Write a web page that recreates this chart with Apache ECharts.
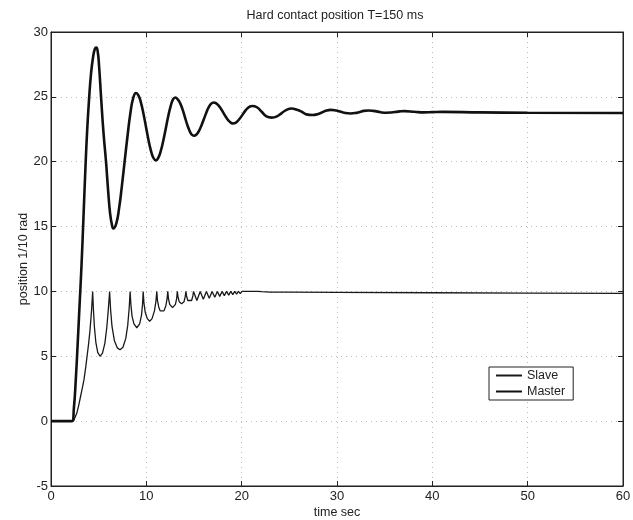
<!DOCTYPE html>
<html>
<head>
<meta charset="utf-8">
<script src="https://cdn.jsdelivr.net/npm/echarts@6/dist/echarts.min.js"></script>
<style>
html,body{margin:0;padding:0;background:#fff;}
#chart{width:633px;height:520px;}
</style>
</head>
<body>
<div id="chart"></div>
<script>
// ---- data ----
var titleText = 'Hard contact position T=150 ms';
var seriesNames = ['Slave', 'Master'];
var xRange = [0, 60], xStep = 10;
var yRange = [-5, 30], yStep = 5;

var masterT = [0,2.2,2.4,2.6,2.8,3.0,3.2,3.4,3.6,3.8,4.0,4.2,4.4,4.6,4.75,4.9,5.05,5.25,5.5,5.77,6.0,6.2,6.4,6.54,
  6.85,7.14,7.43,7.73,8.03,8.33,8.62,8.92,
  9.18,9.44,9.7,9.96,10.22,10.48,10.74,11.0,
  11.25,11.51,11.77,12.03,12.28,12.54,12.8,13.05,
  13.3,13.54,13.79,14.03,14.27,14.51,14.75,15.0,
  15.26,15.52,15.78,16.04,16.3,16.55,16.81,17.07,
  17.33,17.58,17.84,18.09,18.35,18.6,18.85,19.1,
  19.35,19.6,19.85,20.1,20.35,20.6,20.85,21.1,
  21.6,22.1,22.6,23.15,23.7,24.2,24.7,25.25,25.8,26.3,26.8,27.4,27.9,28.4,28.9,29.35,29.9,30.4,30.9,31.4,31.9,32.4,32.8,33.3,33.8,34.3,34.7,35.2,35.7,36.2,36.6,37.1,38.1,39.1,40,41,45,50,60];
var masterV = [0,0,1.0,3.2,6.0,9.0,12.0,15.6,19.3,22.5,24.9,26.8,28.0,28.7,28.8,28.5,27.3,25.0,22.3,20.0,17.7,16.0,15.1,14.85,
  15.25,16.4,18.1,20.07,22.0,23.76,24.9,25.3,
  25.1,24.54,23.7,22.7,21.7,20.86,20.3,20.1,
  20.3,20.81,21.6,22.53,23.45,24.25,24.8,24.95,
  24.8,24.52,24.05,23.48,22.9,22.43,22.1,22.0,
  22.1,22.38,22.8,23.29,23.8,24.2,24.48,24.57,
  24.5,24.33,24.07,23.76,23.45,23.19,23.02,22.95,
  23.0,23.15,23.37,23.63,23.9,24.11,24.25,24.3,
  24.2,23.85,23.5,23.4,23.5,23.75,24.0,24.1,24.0,23.85,23.65,23.6,23.65,23.8,23.95,24.0,23.95,23.85,23.75,23.72,23.75,23.84,23.92,23.95,23.92,23.86,23.8,23.78,23.8,23.84,23.88,23.9,23.85,23.8,23.82,23.84,23.8,23.77,23.75];

var slaveT = [0,2.35,2.5,2.7,2.9,3.1,3.3,3.46,3.65,3.8,3.95,4.09,4.25,4.37,
  4.45,4.55,4.7,4.9,5.14,5.4,5.65,5.85,6.0,6.15,
  6.25,6.4,6.65,6.95,7.24,7.55,7.85,8.05,8.2,8.3,
  8.38,8.5,8.7,9.0,9.3,9.5,9.6,9.67,
  9.75,9.88,10.1,10.35,10.6,10.85,11.0,11.1,
  11.17,11.3,11.45,11.65,11.85,12.05,12.17,12.25,
  12.32,12.45,12.75,13.05,13.18,13.25,
  13.32,13.45,13.7,13.95,14.08,14.15,
  14.22,14.35,14.55,14.75,14.88,14.95,
  15.3,15.65,15.98,16.3,16.6,16.9,17.18,17.45,17.7,17.95,18.18,18.42,18.64,18.86,19.07,19.27,19.47,19.66,19.85,20.03,20.2,20.38,20.54,20.7,20.85,21.0,21.15,21.3,21.5,21.7,21.9,22.1,22.3,
  23,25,30,40,50,60];
var slaveV = [0,0,0.12,0.6,1.2,1.9,2.6,3.2,4.2,5.1,6.0,7.0,8.5,10.0,
  8.6,7.3,6.1,5.3,5.0,5.25,6.0,7.2,8.5,10,
  8.6,7.3,6.2,5.65,5.5,5.7,6.4,7.4,8.7,10,
  9.0,8.1,7.5,7.2,7.5,8.2,9.0,10,
  9.1,8.4,7.9,7.7,7.9,8.5,9.2,10,
  9.3,8.8,8.5,8.35,8.5,8.9,9.4,10,
  9.45,9.0,8.75,9.0,9.45,10,
  9.6,9.2,9.05,9.2,9.6,10,
  9.65,9.3,9.2,9.3,9.65,10,
  9.3,10,9.4,10,9.48,10,9.55,10,9.62,10,9.68,10,9.72,10,9.76,10,9.8,10,9.83,10,9.85,10,9.87,10,9.88,10,9.9,10,9.92,10,9.93,9.98,9.93,
  9.94,9.95,9.93,9.9,9.87,9.85];

function zip(t, v){ var o=[]; for (var i=0;i<t.length;i++) o.push([t[i], v[i]]); return o; }

var FONT = 'Liberation Sans';
var chart = echarts.init(document.getElementById('chart'), null, {renderer:'canvas'});

var gridLine = {show:true, lineStyle:{color:'#bdbdbd', type:[1,4], width:1}};
var baseX = {type:'value', min:xRange[0], max:xRange[1], interval:xStep};
var baseY = {type:'value', min:yRange[0], max:yRange[1], interval:yStep};

chart.setOption({
  animation:false,
  backgroundColor:'#fff',
  title:{text:titleText, left:330, top:4, textAlign:'center',
    textStyle:{fontFamily:FONT, fontSize:12.5, fontWeight:'normal', color:'#222'}},
  grid:{left:51, right:10, top:32, bottom:34, show:true, borderColor:'#222', borderWidth:1,
    containLabel:false, outerBoundsMode:'none'},
  legend:{
    show:true,
    data:seriesNames, orient:'vertical', left:489, top:367,
    itemWidth:26, itemHeight:10, itemGap:3,
    padding:[2,8,2,6],
    borderColor:'#222', borderWidth:1, backgroundColor:'#fff',
    itemStyle:{color:'rgba(0,0,0,0)', borderWidth:0, opacity:0},
    textStyle:{fontFamily:FONT, fontSize:12.5, color:'#222'}
  },
  xAxis:[
    Object.assign({}, baseX, {position:'bottom',
      name:'time sec', nameLocation:'middle', nameGap:20, nameMoveOverlap:false,
      nameTextStyle:{fontFamily:FONT, fontSize:12.5, color:'#222'},
      axisLine:{show:true, onZero:false, lineStyle:{color:'#222'}},
      axisTick:{show:true, inside:true, length:5, lineStyle:{color:'#222'}},
      axisLabel:{fontFamily:FONT, fontSize:13, color:'#222', margin:4},
      splitLine:gridLine}),
    Object.assign({}, baseX, {position:'top',
      axisLine:{show:true, onZero:false, lineStyle:{color:'#222'}},
      axisTick:{show:true, inside:true, length:5, lineStyle:{color:'#222'}},
      axisLabel:{show:false}, splitLine:{show:false}})
  ],
  yAxis:[
    Object.assign({}, baseY, {position:'left',
      name:'position 1/10 rad', nameLocation:'middle', nameGap:21, nameRotate:90, nameMoveOverlap:false,
      nameTextStyle:{fontFamily:FONT, fontSize:12.5, color:'#222'},
      axisLine:{show:true, onZero:false, lineStyle:{color:'#222'}},
      axisTick:{show:true, inside:true, length:5, lineStyle:{color:'#222'}},
      axisLabel:{fontFamily:FONT, fontSize:13, color:'#222', margin:3},
      splitLine:gridLine}),
    Object.assign({}, baseY, {position:'right',
      axisLine:{show:true, onZero:false, lineStyle:{color:'#222'}},
      axisTick:{show:true, inside:true, length:5, lineStyle:{color:'#222'}},
      axisLabel:{show:false}, splitLine:{show:false}})
  ],
  series:[
    {name:'Slave', type:'line', xAxisIndex:0, yAxisIndex:0, data:zip(slaveT, slaveV),
      symbol:'none', smooth:false, lineStyle:{color:'#1a1a1a', width:1.3},
      itemStyle:{color:'#1a1a1a'}},
    {name:'Master', type:'line', xAxisIndex:0, yAxisIndex:0, data:zip(masterT, masterV),
      symbol:'none', smooth:0.5, lineStyle:{color:'#111', width:2.6},
      itemStyle:{color:'#111'}}
  ]
});
</script>
</body>
</html>
